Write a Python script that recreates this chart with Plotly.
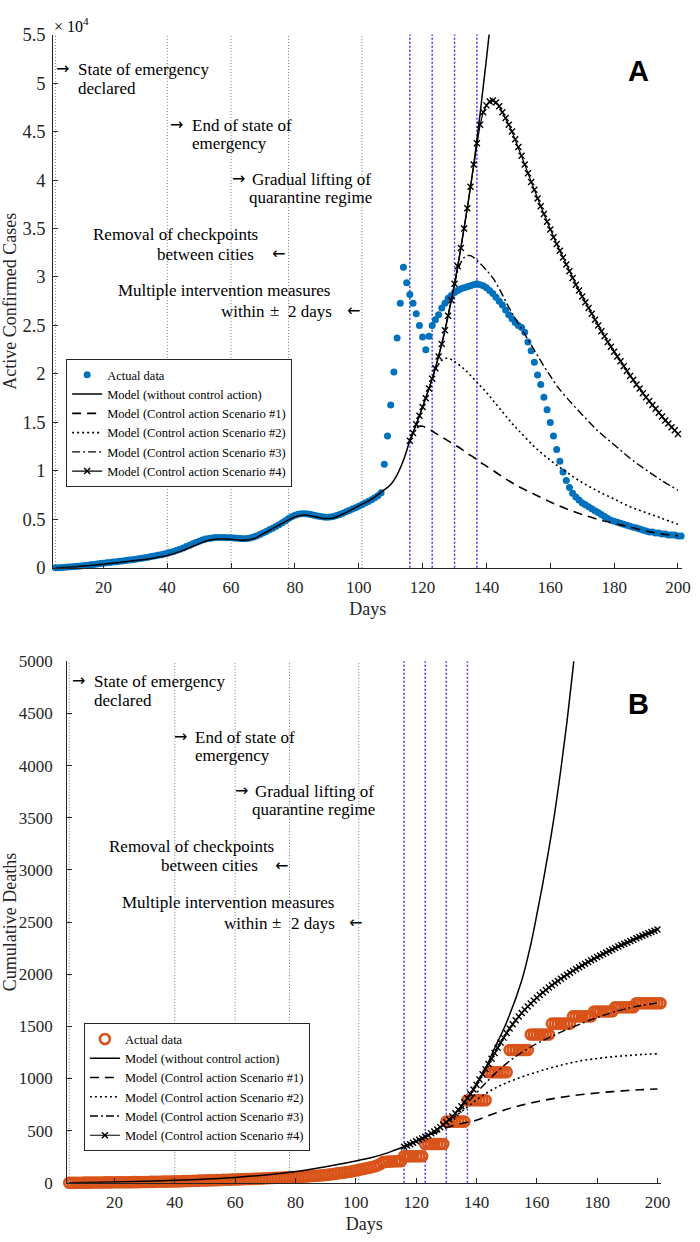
import plotly.graph_objects as go

W, H = 700, 1242
SERIF = "Liberation Serif, Times New Roman, serif"
SANS = "Liberation Sans, Arial, sans-serif"
ARROWF = "DejaVu Sans, sans-serif"
AXC = "#262626"

# ---------------- Panel A: active confirmed cases (x 10^4) ----------------
actual_cases = [
    0.000, 0.002, 0.004, 0.006, 0.008, 0.011, 0.014, 0.017, 0.020, 0.024, 0.028,
    0.032, 0.036, 0.040, 0.044, 0.048, 0.052, 0.056, 0.060, 0.064, 0.068, 0.072, 0.076, 0.080, 0.084, 0.089,
    0.094, 0.099, 0.104, 0.110, 0.116, 0.122, 0.129, 0.136, 0.143, 0.151, 0.160, 0.170, 0.181, 0.193, 0.206,
    0.220, 0.234, 0.248, 0.262, 0.275, 0.287, 0.297, 0.304, 0.309, 0.312, 0.313, 0.313, 0.312, 0.311, 0.310,
    0.308, 0.305, 0.302, 0.301, 0.303, 0.309, 0.318, 0.330, 0.344, 0.359, 0.375, 0.392, 0.409, 0.427, 0.446,
    0.466, 0.487, 0.508, 0.527, 0.542, 0.552, 0.557, 0.558, 0.556, 0.551, 0.544, 0.536, 0.529, 0.524, 0.522,
    0.524, 0.530, 0.539, 0.551, 0.564, 0.578, 0.592, 0.606, 0.621, 0.636, 0.652, 0.668, 0.685, 0.703, 0.722, 0.745, 0.775,
    1.07, 1.36, 1.68, 2.02, 2.37, 2.73, 3.10, 2.94, 2.82, 2.73, 2.62, 2.50, 2.38, 2.25,
    2.39, 2.50, 2.56, 2.61, 2.68, 2.73, 2.78, 2.81, 2.84, 2.86, 2.88, 2.89, 2.90, 2.91, 2.92, 2.93,
    2.92, 2.91, 2.89, 2.86, 2.83, 2.79, 2.75, 2.71, 2.66, 2.61, 2.57, 2.53, 2.50, 2.48, 2.43, 2.33, 2.24, 2.12, 1.99, 1.89, 1.76,
    1.63, 1.50, 1.36, 1.22, 1.10, 0.99, 0.90, 0.83, 0.77, 0.73, 0.70, 0.67, 0.65, 0.63, 0.61, 0.59, 0.57, 0.55, 0.53, 0.51, 0.49, 0.48,
    0.47, 0.46, 0.45, 0.44, 0.43, 0.42, 0.41, 0.40, 0.39, 0.38, 0.37, 0.37, 0.36, 0.36, 0.35, 0.35, 0.34, 0.34, 0.34, 0.33, 0.33,
]
days_actual_a = list(range(5, 5 + len(actual_cases)))

base_a_days = [5, 10, 15, 20, 25, 30, 35, 40, 45, 50, 53, 56, 60, 64, 67, 70, 75, 80, 83, 86,
               89, 92, 96, 100, 104, 107, 110, 112, 114, 116, 118, 120, 122, 124, 126, 128, 130, 132, 134, 136,
               138, 140, 142]
base_a_vals = [0.0, 0.008, 0.022, 0.038, 0.055, 0.075, 0.097, 0.128, 0.180, 0.250, 0.285, 0.298, 0.296, 0.285, 0.300, 0.350, 0.440, 0.525, 0.545, 0.530,
               0.510, 0.515, 0.570, 0.640, 0.710, 0.780, 0.860, 0.960, 1.11, 1.31, 1.48, 1.66, 1.85, 2.06, 2.31, 2.60, 2.93, 3.30, 3.71, 4.16,
               4.68, 5.25, 5.85]

s1a_days = [116, 117, 118, 119, 120, 122, 124, 126, 128, 130, 132, 134, 136, 138, 140,
            145, 150, 155, 160, 165, 170, 175, 180, 185, 190, 195, 200]
s1a_vals = [1.31, 1.39, 1.44, 1.46, 1.46, 1.43, 1.39, 1.35, 1.31, 1.27, 1.23, 1.18, 1.14, 1.09, 1.05,
            0.94, 0.84, 0.76, 0.68, 0.61, 0.55, 0.50, 0.46, 0.42, 0.38, 0.35, 0.33]

s2a_days = [123, 124, 125, 126, 127, 128, 129, 130, 132, 134, 136, 138, 140, 142, 144, 146, 148, 150,
            155, 160, 165, 170, 175, 180, 185, 190, 195, 200]
s2a_vals = [1.95, 2.04, 2.10, 2.14, 2.16, 2.16, 2.15, 2.13, 2.08, 2.02, 1.95, 1.88, 1.81, 1.73, 1.65, 1.57, 1.49, 1.42,
            1.25, 1.11, 0.99, 0.88, 0.79, 0.71, 0.63, 0.57, 0.51, 0.45]

s3a_days = [130, 131, 132, 133, 134, 135, 136, 138, 140, 142, 144, 146, 148, 150, 152, 154, 156, 158, 160, 162,
            165, 170, 175, 180, 185, 190, 195, 200]
s3a_vals = [2.93, 3.06, 3.15, 3.20, 3.22, 3.22, 3.20, 3.14, 3.07, 2.99, 2.88, 2.75, 2.63, 2.52, 2.41, 2.30, 2.19, 2.08, 1.98, 1.88,
            1.76, 1.58, 1.41, 1.27, 1.13, 1.01, 0.90, 0.80]

s4a_vals = [
    1.31, 1.39, 1.48, 1.57, 1.66, 1.75, 1.85, 1.95, 2.06, 2.18,
    2.31, 2.45, 2.60, 2.76, 2.93, 3.11, 3.30, 3.50, 3.71, 3.93,
    4.16, 4.38, 4.57, 4.70, 4.77, 4.81, 4.82, 4.80, 4.76, 4.70,
    4.64, 4.57, 4.50, 4.42, 4.34, 4.25, 4.16, 4.07, 3.98, 3.90,
    3.81, 3.73, 3.65, 3.57, 3.49, 3.41, 3.34, 3.27, 3.20, 3.13,
    3.06, 2.99, 2.92, 2.86, 2.80, 2.74, 2.68, 2.62, 2.56, 2.50,
    2.44, 2.39, 2.33, 2.28, 2.23, 2.18, 2.13, 2.08, 2.03, 1.98,
    1.94, 1.89, 1.85, 1.80, 1.76, 1.72, 1.68, 1.64, 1.60, 1.56,
    1.52, 1.49, 1.45, 1.42, 1.38,
]
s4a_days = list(range(116, 116 + len(s4a_vals)))

# ---------------- Panel B: cumulative deaths ----------------
actual_deaths = [
    0, 0, 1, 1, 1, 2, 2, 2, 3, 3, 3,
    3, 4, 4, 4, 5, 5, 5, 6, 6, 6, 7, 7, 7, 8, 8,
    8, 9, 9, 10, 10, 11, 11, 12, 13, 14, 14, 15, 16, 17, 18,
    19, 20, 21, 22, 22, 23, 24, 25, 26, 27, 28, 29, 30, 31, 32,
    33, 34, 35, 36, 37, 38, 39, 40, 42, 44, 45, 46, 47, 48, 49,
    50, 52, 53, 54, 55, 56, 58, 60, 62, 64, 66, 68, 70, 72, 75,
    78, 82, 86, 90, 94, 98, 102, 106, 112, 118, 124, 130, 136, 142, 148, 156, 165, 178,
    198, 201, 203, 205, 206, 207, 208,
    255, 255, 255, 255, 255, 255, 255,
    372, 372, 372, 372, 372, 372, 372,
    587, 587, 587, 587, 587, 587, 587,
    792, 792, 792, 792, 792, 792, 792,
    1060, 1060, 1060, 1060, 1060, 1060, 1060,
    1274, 1274, 1274, 1274, 1274, 1274, 1274,
    1422, 1422, 1422, 1422, 1422, 1422, 1422,
    1526, 1526, 1526, 1526, 1526, 1526, 1526,
    1596, 1596, 1596, 1596, 1596, 1596, 1596,
    1643, 1643, 1643, 1643, 1643, 1643, 1643,
    1684, 1684, 1684, 1684, 1684, 1684, 1684,
    1722, 1722, 1722, 1722, 1722, 1722, 1722, 1722, 1722,
]
days_actual_b = list(range(5, 5 + len(actual_deaths)))

base_b_days = [5, 20, 40, 60, 77, 90, 100, 105, 110, 113, 116, 120, 123, 126, 130, 133, 137, 140, 143, 146,
               150, 155, 158, 160, 162, 164, 166, 168, 170, 172, 174, 176]
base_b_vals = [0, 8, 25, 52, 97, 155, 210, 240, 282, 315, 345, 398, 441, 492, 580, 667, 811, 950, 1100, 1290,
               1540, 1940, 2285, 2570, 2870, 3200, 3560, 3970, 4420, 4930, 5490, 6100]

s1b_days = [116, 118, 120, 122, 124, 126, 128, 130, 135, 140, 145, 150, 155, 160, 165, 170, 175, 180, 185, 190, 195, 200]
s1b_vals = [345, 372, 398, 424, 448, 474, 501, 528, 568, 600, 655, 705, 745, 778, 805, 828, 846, 861, 874, 885, 893, 900]

s2b_days = [123, 126, 130, 134, 138, 142, 146, 150, 155, 160, 165, 170, 175, 180, 185, 190, 195, 200]
s2b_vals = [441, 492, 570, 660, 750, 835, 905, 960, 1015, 1062, 1105, 1142, 1172, 1192, 1208, 1220, 1230, 1238]

s3b_days = [130, 132, 134, 136, 138, 140, 142, 144, 146, 148, 150, 152, 155, 160, 165, 170, 175, 180, 185, 190, 195, 200]
s3b_vals = [580, 628, 682, 740, 800, 862, 925, 985, 1042, 1095, 1145, 1190, 1250, 1335, 1405, 1470, 1530, 1585, 1633, 1672, 1702, 1725]

s4b_vals = [
    345, 357, 370, 384, 398, 412, 426, 441, 457, 474,
    492, 512, 533, 556, 580, 607, 636, 667, 700, 735,
    772, 811, 852, 895, 940, 990, 1040, 1090, 1140, 1190,
    1245, 1295, 1345, 1392, 1437, 1480, 1520, 1558, 1594, 1628,
    1660, 1690, 1719, 1747, 1774, 1800, 1825, 1849, 1872, 1894,
    1915, 1936, 1956, 1976, 1995, 2014, 2032, 2050, 2067, 2084,
    2101, 2117, 2133, 2149, 2164, 2179, 2194, 2209, 2223, 2237,
    2251, 2265, 2279, 2292, 2305, 2318, 2331, 2344, 2356, 2368,
    2380, 2392, 2404, 2416, 2428,
]
s4b_days = list(range(116, 116 + len(s4b_vals)))

# event markers (days)
event_days = [5, 40, 60, 78, 101]
intervention_days = [116, 123, 130, 137]

x_ticks = [20, 40, 60, 80, 100, 120, 140, 160, 180, 200]
x_range = [4.3, 201.3]

legend_names = ["Actual data", "Model (without control action)",
                "Model (Control action Scenario #1)", "Model (Control action Scenario #2)",
                "Model (Control action Scenario #3)", "Model (Control action Scenario #4)"]

fig = go.Figure()

def add_panel(xa, ya, leg, actual_days, actual_vals, actual_marker, base, s1, s2, s3, s4):
    fig.add_trace(go.Scatter(x=actual_days, y=actual_vals, mode="markers", name=legend_names[0],
                             marker=actual_marker, xaxis=xa, yaxis=ya, legend=leg, cliponaxis=False))
    fig.add_trace(go.Scatter(x=base[0], y=base[1], mode="lines", name=legend_names[1],
                             line=dict(color="black", width=1.5, shape="spline"), xaxis=xa, yaxis=ya, legend=leg))
    fig.add_trace(go.Scatter(x=s1[0], y=s1[1], mode="lines", name=legend_names[2],
                             line=dict(color="black", width=1.6, dash="9px,6px", shape="spline"),
                             xaxis=xa, yaxis=ya, legend=leg))
    fig.add_trace(go.Scatter(x=s2[0], y=s2[1], mode="lines", name=legend_names[3],
                             line=dict(color="black", width=1.6, dash="2px,3px", shape="spline"),
                             xaxis=xa, yaxis=ya, legend=leg))
    fig.add_trace(go.Scatter(x=s3[0], y=s3[1], mode="lines", name=legend_names[4],
                             line=dict(color="black", width=1.4, dash="8px,3px,2px,3px", shape="spline"),
                             xaxis=xa, yaxis=ya, legend=leg))
    fig.add_trace(go.Scatter(x=s4[0], y=s4[1], mode="lines+markers", name=legend_names[5],
                             line=dict(color="black", width=1.2),
                             marker=dict(symbol="x-thin", size=6, color="black", line=dict(width=1.4, color="black")),
                             xaxis=xa, yaxis=ya, legend=leg))

add_panel("x", "y", "legend", days_actual_a, actual_cases,
          dict(symbol="circle", size=7, color="#0072BD"),
          (base_a_days, base_a_vals), (s1a_days, s1a_vals), (s2a_days, s2a_vals),
          (s3a_days, s3a_vals), (s4a_days, s4a_vals))
add_panel("x2", "y2", "legend2", days_actual_b, actual_deaths,
          dict(symbol="circle-open", size=10, color="#D95319", line=dict(width=2.6, color="#D95319")),
          (base_b_days, base_b_vals), (s1b_days, s1b_vals), (s2b_days, s2b_vals),
          (s3b_days, s3b_vals), (s4b_days, s4b_vals))

# vertical event lines
shapes = []
for xr, yr in (("x", "y domain"), ("x2", "y2 domain")):
    for d in event_days:
        shapes.append(dict(type="line", xref=xr, yref=yr, x0=d, x1=d, y0=0, y1=1, layer="below",
                           line=dict(color="#7a7a7a", width=1, dash="1px,2px")))
    for d in intervention_days:
        shapes.append(dict(type="line", xref=xr, yref=yr, x0=d, x1=d, y0=0, y1=1, layer="below",
                           line=dict(color="#3a3aff", width=1.5, dash="2px,2px")))

def ann(text, px, py, anchor="left", size=17, family=SERIF, color="black"):
    return dict(text=text, x=px / W, y=1 - py / H, xref="paper", yref="paper",
                xanchor=anchor, yanchor="middle", showarrow=False,
                font=dict(family=family, size=size, color=color))

def event_texts(dy, x_shift):
    items = [
        ("→", 55, 60, True), ("State of emergency", 77, 60, False), ("declared", 77, 80, False),
        ("→", 170, 117, True), ("End of state of", 192, 117, False), ("emergency", 192, 136, False),
        ("→", 233, 172, True), ("Gradual lifting of", 253, 172, False), ("quarantine regime", 250, 191, False),
        ("Removal of checkpoints", 92, 228, False), ("between cities", 157, 248, False), ("←", 274, 248, True),
        ("Multiple intervention measures", 118, 285, False), ("within", 222, 306, False), ("±", 271, 305, False),
        ("2 days", 290, 306, False), ("←", 349, 306, True),
    ]
    out = []
    for t, px, py, is_arrow in items:
        if is_arrow:
            out.append(ann(t, px + x_shift(px), py + dy - 1, size=16, family=ARROWF))
        else:
            out.append(ann(t, px + x_shift(px), py + dy))
    return out

annotations = []
annotations += event_texts(0, lambda p: 0)
annotations += event_texts(622, lambda p: 16 if p < 100 else 4 if p < 200 else 3)
annotations.append(ann("× 10<sup>4</sup>", 53, 15, size=16))
annotations.append(ann("<b>A</b>", 647, 62, anchor="center", size=29, family=SANS))
annotations.append(ann("<b>B</b>", 647, 705, anchor="center", size=29, family=SANS))

axis_common = dict(showline=True, linecolor=AXC, linewidth=1, ticks="inside", ticklen=5,
                   tickcolor=AXC, tickwidth=1, showgrid=False, zeroline=False, mirror=False)

legend_common = dict(xanchor="left", yanchor="middle", bgcolor="white", bordercolor=AXC, borderwidth=1,
                     tracegroupgap=0, itemwidth=30, font=dict(family=SERIF, size=12.5, color="black"))

fig.update_layout(
    width=W, height=H, margin=dict(l=0, r=0, t=0, b=0),
    paper_bgcolor="white", plot_bgcolor="white",
    font=dict(family=SERIF, color=AXC),
    showlegend=True,
    xaxis=dict(domain=[54 / W, 691 / W], range=x_range, tickvals=x_ticks, anchor="y",
               ticklabelstandoff=4, tickfont=dict(family=SERIF, size=17, color=AXC),
               title=dict(text="Days", font=dict(family=SERIF, size=18, color=AXC), standoff=6),
               **axis_common),
    yaxis=dict(domain=[1 - 567 / H, 1 - 25 / H], range=[0, 5.5], dtick=0.5, anchor="x",
               ticklabelstandoff=3, tickfont=dict(family=SERIF, size=18.5, color=AXC),
               title=dict(text="Active Confirmed Cases", font=dict(family=SERIF, size=18, color=AXC), standoff=2),
               **axis_common),
    xaxis2=dict(domain=[68 / W, 670 / W], range=x_range, tickvals=x_ticks, anchor="y2",
                ticklabelstandoff=4, tickfont=dict(family=SERIF, size=17, color=AXC),
                title=dict(text="Days", font=dict(family=SERIF, size=18, color=AXC), standoff=6),
                **axis_common),
    yaxis2=dict(domain=[1 - 1192 / H, 1 - 662 / H], range=[0, 5000], dtick=500, anchor="x2",
                ticklabelstandoff=10, tickfont=dict(family=SERIF, size=17, color=AXC),
                title=dict(text="Cumulative Deaths", font=dict(family=SERIF, size=18, color=AXC), standoff=4),
                **axis_common),
    legend=dict(x=67 / W, y=1 - 420 / H, **legend_common),
    legend2=dict(x=85 / W, y=1 - 1095 / H, **legend_common),
    shapes=shapes,
    annotations=annotations,
)

fig.write_html("out.html", config={"displayModeBar": False},
               post_script="document.body.style.margin='0px';")
